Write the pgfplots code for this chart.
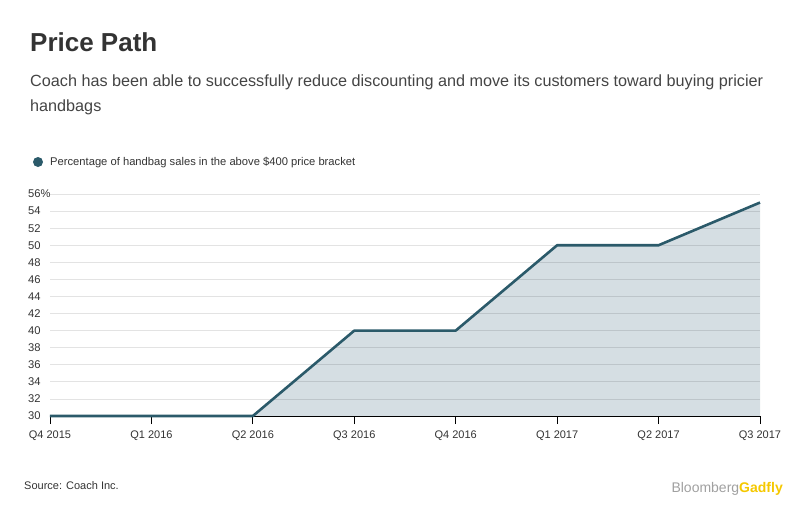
\documentclass[border=0pt]{standalone}
\usepackage{pgfplots}
\pgfplotsset{compat=1.18}
\usepackage{fontspec}
\setmainfont{Liberation Sans}
\definecolor{linec}{HTML}{2B5A6A}
\definecolor{fillc}{HTML}{D5DEE3}
\definecolor{txt}{HTML}{333333}
\definecolor{sub}{HTML}{444444}
\definecolor{bbg}{HTML}{A0A0A0}
\definecolor{gad}{HTML}{F5C800}
\pgfplotsset{base/.style={
  at={(50pt,-416pt)}, anchor=south west,
  scale only axis, width=710pt, height=222pt,
  xmin=0, xmax=7, ymin=30, ymax=56,
  clip=false,
}}
\begin{document}
\begin{tikzpicture}
\path[use as bounding box] (0pt,0pt) rectangle (812pt,-525pt);
\node[anchor=base west, inner sep=0, text=txt] at (30pt,-51pt) {\fontsize{26}{30}\selectfont\bfseries Price Path};
\node[anchor=base west, inner sep=0, text=sub] at (30pt,-86pt) {\fontsize{16.2}{18}\selectfont Coach has been able to successfully reduce discounting and move its customers toward buying pricier};
\node[anchor=base west, inner sep=0, text=sub] at (30pt,-111pt) {\fontsize{16.2}{18}\selectfont handbags};
\fill[linec] (38pt,-162pt) circle (5pt);
\node[anchor=base west, inner sep=0, text=txt] at (50pt,-165pt) {\fontsize{11.2}{12}\selectfont Percentage of handbag sales in the above \$400 price bracket};
\node[anchor=base west, inner sep=0, text=txt] at (24pt,-489pt) {\fontsize{11}{12}\selectfont Source: Coach Inc.};
\node[anchor=base east, inner sep=0] at (783pt,-492pt) {\fontsize{14}{15}\selectfont\textcolor{bbg}{Bloomberg}\textcolor{gad}{\bfseries Gadfly}};
\begin{axis}[base,
  axis on top,
  axis line style={draw=none},
  ytick={32,34,...,56}, xtick=\empty,
  yticklabels={},
  ytick style={draw=none},
  ymajorgrids,
  major grid style={black, opacity=0.11, line width=0.8pt},
]
\addplot[fill=fillc, draw=none] coordinates {(0,30) (1,30) (2,30) (3,40) (4,40) (5,50) (6,50) (7,55)} \closedcycle;
\end{axis}
\begin{axis}[base,
  axis x line*=bottom, axis y line*=left,
  y axis line style={draw=none},
  x axis line style={black, line width=0.8pt},
  xtick={0,...,7},
  xticklabels={Q4 2015,Q1 2016,Q2 2016,Q3 2016,Q4 2016,Q1 2017,Q2 2017,Q3 2017},
  ytick={30,32,...,56},
  yticklabels={30,32,34,36,38,40,42,44,46,48,50,52,54,56\%},
  tick align=outside,
  major tick length=8pt,
  xtick style={black, line width=0.8pt},
  ytick style={draw=none},
  yticklabel style={anchor=west, xshift=-14pt, inner sep=0pt, font=\fontsize{11.2}{12}\selectfont, text=txt},
  xticklabel style={font=\fontsize{11}{12}\selectfont, text=txt, yshift=-3pt},
]
\addplot[linec, line width=2.6pt, line join=round] coordinates {(0,30) (1,30) (2,30) (3,40) (4,40) (5,50) (6,50) (7,55)};
\end{axis}
\end{tikzpicture}
\end{document}
